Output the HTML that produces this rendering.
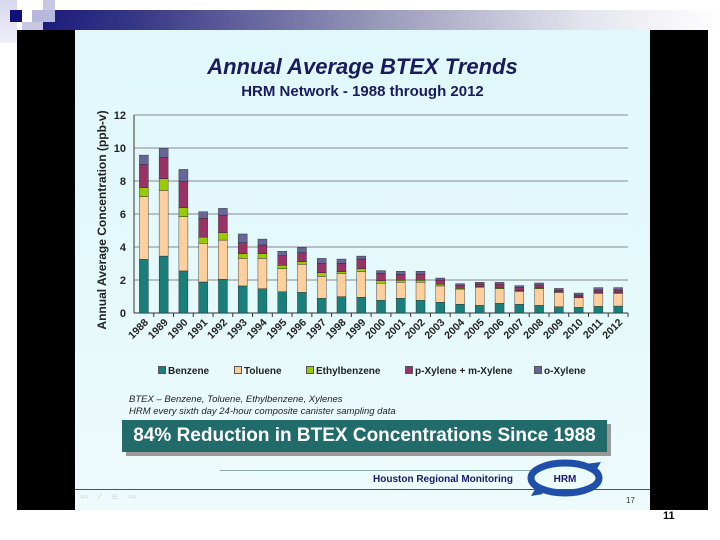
<!DOCTYPE html>
<html><head><meta charset="utf-8">
<style>
body{margin:0;width:720px;height:540px;position:relative;background:#fff;font-family:"Liberation Sans",sans-serif;overflow:hidden}
.a{position:absolute}
</style></head>
<body>
<div class="a" style="left:0;top:0;width:17px;height:43px;background:linear-gradient(#d8d8ee,#eeeef8)"></div>
<div class="a" style="left:43px;top:0;width:12px;height:10px;background:#c8c8e4"></div>
<div class="a" style="left:22px;top:22px;width:21px;height:8px;background:#c8c8e4"></div>
<div class="a" style="left:43px;top:10px;width:677px;height:20px;background:linear-gradient(90deg,#1c1c7c,#3a3a88 15%,#9a9abb 50%,#e4e4ee 80%,#fff)"></div>
<div class="a" style="left:32px;top:10px;width:23px;height:12px;background:#b8b8dc"></div>
<div class="a" style="left:10px;top:10px;width:12px;height:12px;background:#10107a"></div>
<div class="a" style="left:17px;top:30px;width:691px;height:480px;background:#000"></div>
<div class="a" style="left:75px;top:30px;width:575px;height:480px;background:linear-gradient(#e0f8fb,#e6f9fb 60%,#eefbfc)"></div>

<div class="a" style="left:75px;top:54px;width:575px;text-align:center;font-weight:bold;font-style:italic;font-size:22px;color:#1a1a5e">Annual Average BTEX Trends</div>
<div class="a" style="left:75px;top:83px;width:575px;text-align:center;font-weight:bold;font-size:15px;color:#1a1a5e">HRM Network - 1988 through 2012</div>

<svg class="a" style="left:0;top:0" width="720" height="540">
<g id="grid"></g><g id="bars"></g><g id="labels"></g>
<text transform="translate(106,220) rotate(-90)" text-anchor="middle" font-size="12" font-weight="bold" fill="#222" font-family="Liberation Sans, sans-serif">Annual Average Concentration (ppb-v)</text>
</svg>

<div class="a" style="left:0;top:366px;font-size:10px;font-weight:bold;color:#222">
<span class="a" style="left:158px;white-space:nowrap"><span style="display:inline-block;width:6px;height:6px;background:#1a7f7a;border:1px solid #555;margin-right:2px"></span>Benzene</span>
<span class="a" style="left:234px;white-space:nowrap"><span style="display:inline-block;width:6px;height:6px;background:#fccf9c;border:1px solid #555;margin-right:2px"></span>Toluene</span>
<span class="a" style="left:306px;white-space:nowrap"><span style="display:inline-block;width:6px;height:6px;background:#99cc00;border:1px solid #555;margin-right:2px"></span>Ethylbenzene</span>
<span class="a" style="left:405px;white-space:nowrap"><span style="display:inline-block;width:6px;height:6px;background:#993366;border:1px solid #555;margin-right:2px"></span>p-Xylene + m-Xylene</span>
<span class="a" style="left:534px;white-space:nowrap"><span style="display:inline-block;width:6px;height:6px;background:#666699;border:1px solid #555;margin-right:2px"></span>o-Xylene</span>
</div>

<div class="a" style="left:129px;top:394px;font-size:9.5px;font-style:italic;color:#222;line-height:12px">BTEX – Benzene, Toluene, Ethylbenzene, Xylenes<br>HRM every sixth day 24-hour composite canister sampling data</div>
<div class="a" style="left:126px;top:424px;width:485px;height:32px;background:#999"></div>
<div class="a" style="left:122px;top:420px;width:485px;height:32px;background:#226b6b;color:#fff;font-weight:bold;font-size:19px;line-height:32px;text-align:center">84% Reduction in BTEX Concentrations Since 1988</div>

<div class="a" style="left:220px;top:470px;width:320px;height:1px;background:#8aa"></div>
<div class="a" style="left:75px;top:489px;width:575px;height:1px;background:#335c66"></div>
<div class="a" style="left:373px;top:474px;font-size:10px;font-weight:bold;color:#1a1a6e">Houston Regional Monitoring</div>
<svg class="a" style="left:525px;top:458px" width="85" height="44">
<ellipse cx="40" cy="20" rx="34" ry="15" fill="none" stroke="#1f4fa8" stroke-width="7"/>
<path d="M60 6 L76 4 L70 14Z M18 36 L6 38 L12 28Z" fill="#1f4fa8"/>
<text x="40" y="24" text-anchor="middle" font-size="10" font-weight="bold" fill="#1a1a6e" font-family="Liberation Sans, sans-serif">HRM</text>
</svg>
<div class="a" style="left:80px;top:492px;font-size:10px;color:#c8d8dc;letter-spacing:4px">⇦ ⁄ ≡ ⇨</div>
<div class="a" style="left:626px;top:496px;font-size:8px;color:#333">17</div>
<div class="a" style="left:663px;top:510px;font-size:11px;font-weight:bold;color:#000">11</div>

<script>
const years=[1988,1989,1990,1991,1992,1993,1994,1995,1996,1997,1998,1999,2000,2001,2002,2003,2004,2005,2006,2007,2008,2009,2010,2011,2012];
const benzene=[3.25,3.45,2.55,1.88,2.04,1.64,1.47,1.29,1.25,0.89,0.99,0.95,0.77,0.89,0.77,0.65,0.53,0.46,0.59,0.53,0.46,0.38,0.34,0.40,0.42];
const toluene=[3.8,3.98,3.29,2.34,2.38,1.67,1.84,1.4,1.7,1.33,1.41,1.55,1.03,0.97,1.09,0.99,0.92,1.1,0.88,0.78,1.01,0.87,0.59,0.79,0.77];
const ethylbenzene=[0.55,0.71,0.54,0.38,0.45,0.29,0.29,0.2,0.16,0.22,0.1,0.19,0.16,0.12,0.12,0.1,0.05,0.04,0.05,0.04,0.05,0.02,0.04,0.04,0.04];
const pmXylene=[1.4,1.29,1.6,1.14,1.05,0.66,0.52,0.58,0.55,0.57,0.51,0.58,0.44,0.36,0.38,0.26,0.18,0.16,0.22,0.21,0.18,0.12,0.12,0.16,0.16];
const oXylene=[0.57,0.55,0.72,0.4,0.42,0.53,0.36,0.27,0.32,0.3,0.26,0.18,0.17,0.19,0.17,0.12,0.1,0.1,0.12,0.1,0.12,0.1,0.12,0.15,0.15];
const yTicks=[0,2,4,6,8,10,12];
const series=[benzene,toluene,ethylbenzene,pmXylene,oXylene];
const colors=['#1a7f7a','#fccf9c','#99cc00','#993366','#666699'];
const names=['benzene','toluene','ethylbenzene','pm-xylene','o-xylene'];
const ns='http://www.w3.org/2000/svg';
const X0=134,X1=628,Y0=313,Y1=115,YMAX=12;
const y=v=>Y0-(Y0-Y1)*v/YMAX;
const step=(X1-X0)/years.length;
const x=i=>X0+step*(i+0.5);
const grid=document.getElementById('grid'),bars=document.getElementById('bars'),labels=document.getElementById('labels');
function mk(tag,attrs,parent){const e=document.createElementNS(ns,tag);for(const k in attrs)e.setAttribute(k,attrs[k]);parent.appendChild(e);return e;}
yTicks.forEach(t=>{
  const l=mk('line',{x1:X0,x2:X1,y1:y(t),y2:y(t),stroke:t===0?'#333':'#888','stroke-width':1},grid);
  
  
  const tx=mk('text',{x:X0-8,y:y(t)+4,'text-anchor':'end','font-size':11,'font-weight':'bold',fill:'#222','font-family':'Liberation Sans, sans-serif'},labels);
  tx.textContent=t;
  
  
});
const ax=mk('line',{x1:X0,x2:X0,y1:Y1,y2:Y0,stroke:'#333'},grid);


years.forEach((yr,i)=>{
  let acc=0;
  series.forEach((s,k)=>{
    const v=s[i];
    const r=mk('rect',{x:x(i)-4.5,y:y(acc+v),width:9,height:Math.max(0,y(acc)-y(acc+v)),fill:colors[k],stroke:'#222','stroke-width':0.4},bars);
    
    
    acc+=v;
  });
  const tk=mk('line',{x1:X0+step*(i+1),x2:X0+step*(i+1),y1:Y0,y2:Y0+4,stroke:'#333'},grid);
  
  
  const t=mk('text',{transform:`translate(${x(i)+5},${Y0+10}) rotate(-45)`,'text-anchor':'end','font-size':10.5,'font-weight':'bold',fill:'#222','font-family':'Liberation Sans, sans-serif'},labels);
  t.textContent=yr;
  
  
});
</script>
</body></html>
